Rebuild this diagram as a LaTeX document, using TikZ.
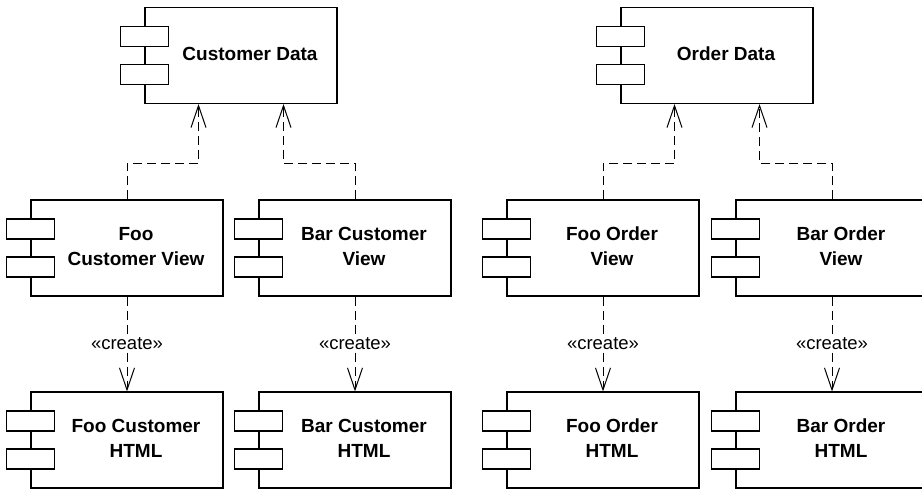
\documentclass[tikz,border=0pt]{standalone}
\usepackage{fontspec}
\setmainfont{Liberation Sans}
\usetikzlibrary{arrows.meta}

% component label, set a little to the right of the box centre
\newcommand{\comptext}[1]{\hspace{18pt}\begin{tabular}{@{}c@{}}#1\end{tabular}}

\begin{document}
\begin{tikzpicture}[x=1pt, y=1pt,
  component/.style={draw, line width=1.1pt, minimum width=192pt, minimum height=96pt, inner sep=0pt,
    font=\fontsize{19}{25}\selectfont\bfseries},
  port/.style={draw, fill=white, line width=1.1pt},
  dep/.style={line width=1pt, dash pattern=on 9pt off 5pt,
    -{Straight Barb[length=22pt, width=15pt, line width=1pt]}},
  stereo/.style={fill=white, font=\fontsize{18.5}{22}\selectfont, inner sep=2pt}]

  \useasboundingbox (0,0) rectangle (922,-490);

  % Data components (top row)
  \node[component] (cdata) at (241,-55.5) {\comptext{Customer Data}};
  \node[component] (odata) at (717,-55.5) {\comptext{Order Data}};

  % View components (middle row)
  \node[component] (fcv) at (127,-248) {\comptext{Foo\\Customer View}};
  \node[component] (bcv) at (355,-248) {\comptext{Bar Customer\\View}};
  \node[component] (fov) at (603,-248) {\comptext{Foo Order\\View}};
  \node[component] (bov) at (832,-248) {\comptext{Bar Order\\View}};

  % HTML components (bottom row)
  \node[component] (fch) at (127,-440) {\comptext{Foo Customer\\HTML}};
  \node[component] (bch) at (355,-440) {\comptext{Bar Customer\\HTML}};
  \node[component] (foh) at (603,-440) {\comptext{Foo Order\\HTML}};
  \node[component] (boh) at (832,-440) {\comptext{Bar Order\\HTML}};

  % Component ports
  \foreach \n in {cdata,odata,fcv,bcv,fov,bov,fch,bch,foh,boh} {
    \draw[port] ([shift={(-24pt,9pt)}]\n.west) rectangle ([shift={(24pt,29pt)}]\n.west);
    \draw[port] ([shift={(-24pt,-29pt)}]\n.west) rectangle ([shift={(24pt,-9pt)}]\n.west);
  }

  % Views depend on data
  \draw[dep] (fcv.north) -- ++(0,36) -| ([xshift=-42.5pt]cdata.south);
  \draw[dep] (bcv.north) -- ++(0,36) -| ([xshift=42.5pt]cdata.south);
  \draw[dep] (fov.north) -- ++(0,36) -| ([xshift=-42.5pt]odata.south);
  \draw[dep] (bov.north) -- ++(0,36) -| ([xshift=42.5pt]odata.south);

  % Views create HTML
  \draw[dep] (fcv) -- node[stereo] {«create»} (fch);
  \draw[dep] (bcv) -- node[stereo] {«create»} (bch);
  \draw[dep] (fov) -- node[stereo] {«create»} (foh);
  \draw[dep] (bov) -- node[stereo] {«create»} (boh);

\end{tikzpicture}
\end{document}
